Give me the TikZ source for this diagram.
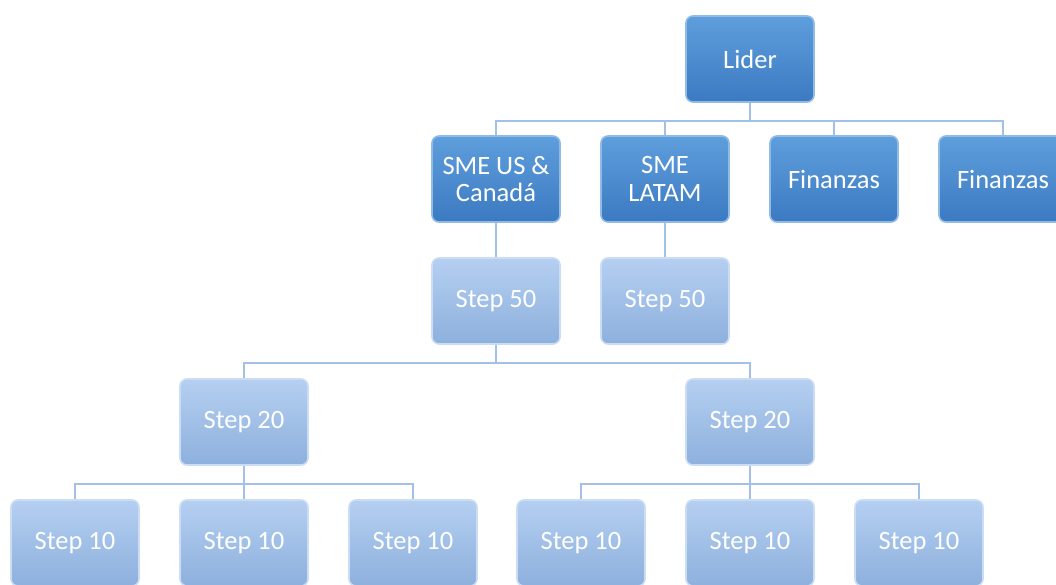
\documentclass[tikz,border=0pt]{standalone}
\usepackage{fontspec}
\setmainfont{Carlito}

\definecolor{darktop}{HTML}{5F9EDC}
\definecolor{darkbot}{HTML}{3B7AC1}
\definecolor{lighttop}{HTML}{B5CFF1}
\definecolor{lightbot}{HTML}{8DB0DD}
\definecolor{linkblue}{HTML}{A3C0E6}

\tikzset{
  box/.style={rectangle, rounded corners=7pt, minimum width=128pt, minimum height=86pt,
    inner sep=2pt, text=white, align=center, line width=1.6pt,
    font=\fontsize{26.5}{27.5}\selectfont},
  darkbox/.style={box, top color=darktop, bottom color=darkbot, draw=darktop!70!white},
  lightbox/.style={box, top color=lighttop, bottom color=lightbot, draw=lighttop!70!white},
  link/.style={draw=linkblue, line width=2pt}
}

\begin{document}
\begin{tikzpicture}[x=1pt, y=-1pt]
    \useasboundingbox (0,0) rectangle (1056,584);
    \clip (0,0) rectangle (1056,584);

    % top
    \node[darkbox] (lider) at (750,59) {Lider};

    % second row
    \node[darkbox] (smeus) at (496,179) {SME US \&\\Canadá};
    \node[darkbox] (smelatam) at (665,179) {SME\\LATAM};
    \node[darkbox] (fin1) at (834,179) {Finanzas};
    \node[darkbox] (fin2) at (1003,179) {Finanzas};

    % step 50
    \node[lightbox] (stepa) at (496,301) {Step 50};
    \node[lightbox] (stepb) at (665,301) {Step 50};

    % step 20
    \node[lightbox] (twentya) at (244,422) {Step 20};
    \node[lightbox] (twentyb) at (750,422) {Step 20};

    % step 10
    \foreach \n/\x in {1/75, 2/244, 3/413, 4/581, 5/750, 6/919} {
        \node[lightbox] (ten\n) at (\x,543) {Step 10};
      }

    % connectors
    \foreach \c in {smeus, smelatam, fin1, fin2} {
        \draw[link] (lider.south) -- ++(0,18) -| (\c.north);
      }
    \draw[link] (smeus.south) -- (stepa.north);
    \draw[link] (smelatam.south) -- (stepb.north);
    \foreach \c in {twentya, twentyb} {
        \draw[link] (stepa.south) -- ++(0,18) -| (\c.north);
      }
    \foreach \c in {ten1, ten2, ten3} {
        \draw[link] (twentya.south) -- ++(0,18) -| (\c.north);
      }
    \foreach \c in {ten4, ten5, ten6} {
        \draw[link] (twentyb.south) -- ++(0,18) -| (\c.north);
      }
  \end{tikzpicture}
\end{document}
